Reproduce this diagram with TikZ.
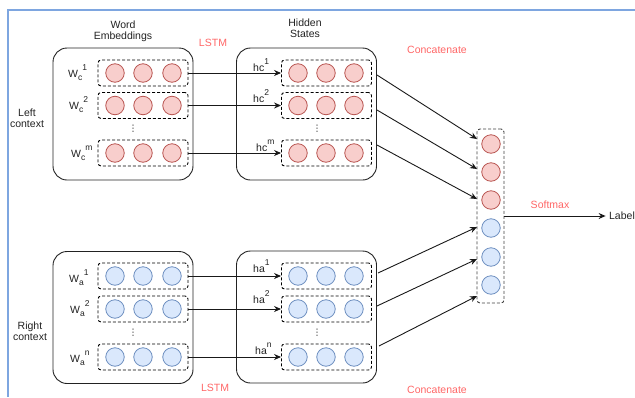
\documentclass[tikz,border=0pt]{standalone}
\usepackage{fontspec}
\setmainfont{Liberation Sans}
\newfontfamily\dejavu{DejaVu Sans}
\usetikzlibrary{arrows.meta}
\definecolor{rfill}{HTML}{F8CECC}
\definecolor{rline}{HTML}{B85450}
\definecolor{bfill}{HTML}{DAE8FC}
\definecolor{bline}{HTML}{6C8EBF}
\definecolor{frame}{HTML}{7EA6E0}
\definecolor{lab}{HTML}{FF6666}
\definecolor{txt}{HTML}{222222}
\newcommand\supx[1]{\raisebox{6.5pt}{\fontsize{8.5}{8.5}\selectfont #1}}
\newcommand\subx[1]{\raisebox{-3pt}{\fontsize{8.5}{8.5}\selectfont #1}}
\tikzset{
  every node/.style={font=\fontsize{10.5}{12}\selectfont, text=txt},
  bigbox/.style={draw=txt, line width=0.9pt, rounded corners=14pt, minimum width=140pt, minimum height=132pt, inner sep=0pt},
  rowbox/.style={draw=black, dashed, dash pattern=on 3pt off 2pt, line width=0.9pt, rounded corners=3pt, minimum width=90pt, minimum height=26pt, inner sep=0pt},
  colbox/.style={draw=black!75, dashed, dash pattern=on 3pt off 2pt, line width=0.9pt, rounded corners=3pt, minimum width=27pt, minimum height=174pt, inner sep=0pt},
  rc/.style={circle, draw=rline, fill=rfill, line width=0.8pt, minimum size=18.5pt, inner sep=0pt},
  bc/.style={circle, draw=bline, fill=bfill, line width=0.8pt, minimum size=18.5pt, inner sep=0pt},
  arr/.style={draw=black!90, line width=0.9pt, -{Stealth[length=7pt,width=6pt]}},
  red/.style={text=lab},
  vdots/.style={font=\dejavu\fontsize{9}{9}\selectfont, inner sep=0pt},
  sublab/.style={anchor=base west, inner sep=0pt},
}
\begin{document}
\begin{tikzpicture}[x=1pt,y=-1pt]
\useasboundingbox (0,0) rectangle (635,397);
\draw[frame, line width=1.5pt] (635,10) -- (8,10) -- (8,397);

% titles
\node[align=center] (wetitle) at (123,31) {Word\\[-1pt]Embeddings};
\node[align=center] (hstitle) at (305,28) {Hidden\\[-1pt]States};
\node[red] (lstm1) at (213,43) {LSTM};
\node[red] (lstm2) at (215,388) {LSTM};
\node[red] (cat1) at (437,50) {Concatenate};
\node[red] (cat2) at (437,390) {Concatenate};
\node[align=center] (leftctx) at (27,118) {Left\\[-1pt]context};
\node[align=center] (rightctx) at (30,331) {Right\\[-1pt]context};

% ---- left context
\node[bigbox] (LT) at (123,114) {};
\node[bigbox] (HT) at (306.5,114) {};
\foreach \r/\y in {1/73,2/105.5,3/153}{
  \node[rowbox] (l\r) at (143,\y) {};
  \node[rc] (l\r a) at (115,\y) {};
  \node[rc] (l\r b) at (143,\y) {};
  \node[rc] (l\r c) at (172,\y) {};
  \node[rowbox] (h\r) at (326.5,\y) {};
  \node[rc] (h\r a) at (298,\y) {};
  \node[rc] (h\r b) at (326,\y) {};
  \node[rc] (h\r c) at (354,\y) {};
  \draw[arr] (l\r.east) -- (h\r.west);
}
\node[sublab] (wl1) at (68,77) {W\subx{c}\supx{1}};
\node[sublab] (wl2) at (69,109) {W\subx{c}\supx{2}};
\node[sublab] (wl3) at (71,157) {W\subx{c}\supx{m}};
\node[sublab] (hl1) at (253,71) {hc\supx{1}};
\node[sublab] (hl2) at (253,102) {hc\supx{2}};
\node[sublab] (hl3) at (256,151) {hc\supx{m}};
\node[vdots] (ld1) at (133,129) {⋮};
\node[vdots] (hd1) at (317,129) {⋮};

% ---- right context
\node[bigbox] (LB) at (123,317.5) {};
\node[bigbox] (HB) at (306.5,317) {};
\foreach \r/\y in {1/276,2/309,3/357}{
  \node[rowbox] (m\r) at (143,\y) {};
  \node[bc] (m\r a) at (115,\y) {};
  \node[bc] (m\r b) at (143,\y) {};
  \node[bc] (m\r c) at (172,\y) {};
  \node[rowbox] (g\r) at (326.5,\y) {};
  \node[bc] (g\r a) at (298,\y) {};
  \node[bc] (g\r b) at (326,\y) {};
  \node[bc] (g\r c) at (354,\y) {};
  \draw[arr] (m\r.east) -- (g\r.west);
}
\node[sublab] (wa1) at (69,282) {W\subx{a}\supx{1}};
\node[sublab] (wa2) at (70,313) {W\subx{a}\supx{2}};
\node[sublab] (wa3) at (70,362) {W\subx{a}\supx{n}};
\node[sublab] (ha1) at (253,272) {ha\supx{1}};
\node[sublab] (ha2) at (253,303) {ha\supx{2}};
\node[sublab] (ha3) at (255,354) {ha\supx{n}};
\node[vdots] (ld2) at (133,333) {⋮};
\node[vdots] (hd2) at (317,333) {⋮};

% ---- concatenation column
\node[colbox] (col) at (490.5,216) {};
\node[rc] (c1) at (491,144) {};
\node[rc] (c2) at (491,172) {};
\node[rc] (c3) at (491,200) {};
\node[bc] (c4) at (491,228) {};
\node[bc] (c5) at (491,257) {};
\node[bc] (c6) at (491,285) {};

\coordinate (s1) at (377,75);
\coordinate (s2) at (377,110);
\coordinate (s3) at (377,145);
\coordinate (s4) at (378,273);
\coordinate (s5) at (377,306);
\coordinate (s6) at (379,346);
\coordinate (e1) at (477,139);
\coordinate (e2) at (477,169);
\coordinate (e3) at (477,199);
\coordinate (e4) at (477,227);
\coordinate (e5) at (477,259);
\coordinate (e6) at (477,296);
\foreach \i in {1,...,6}{ \draw[arr] (s\i) -- (e\i); }

\node (label) at (622,216) {Label};
\draw[arr] (col.east) -- (label.west);
\node[red] (softmax) at (550,205) {Softmax};
\end{tikzpicture}
\end{document}
